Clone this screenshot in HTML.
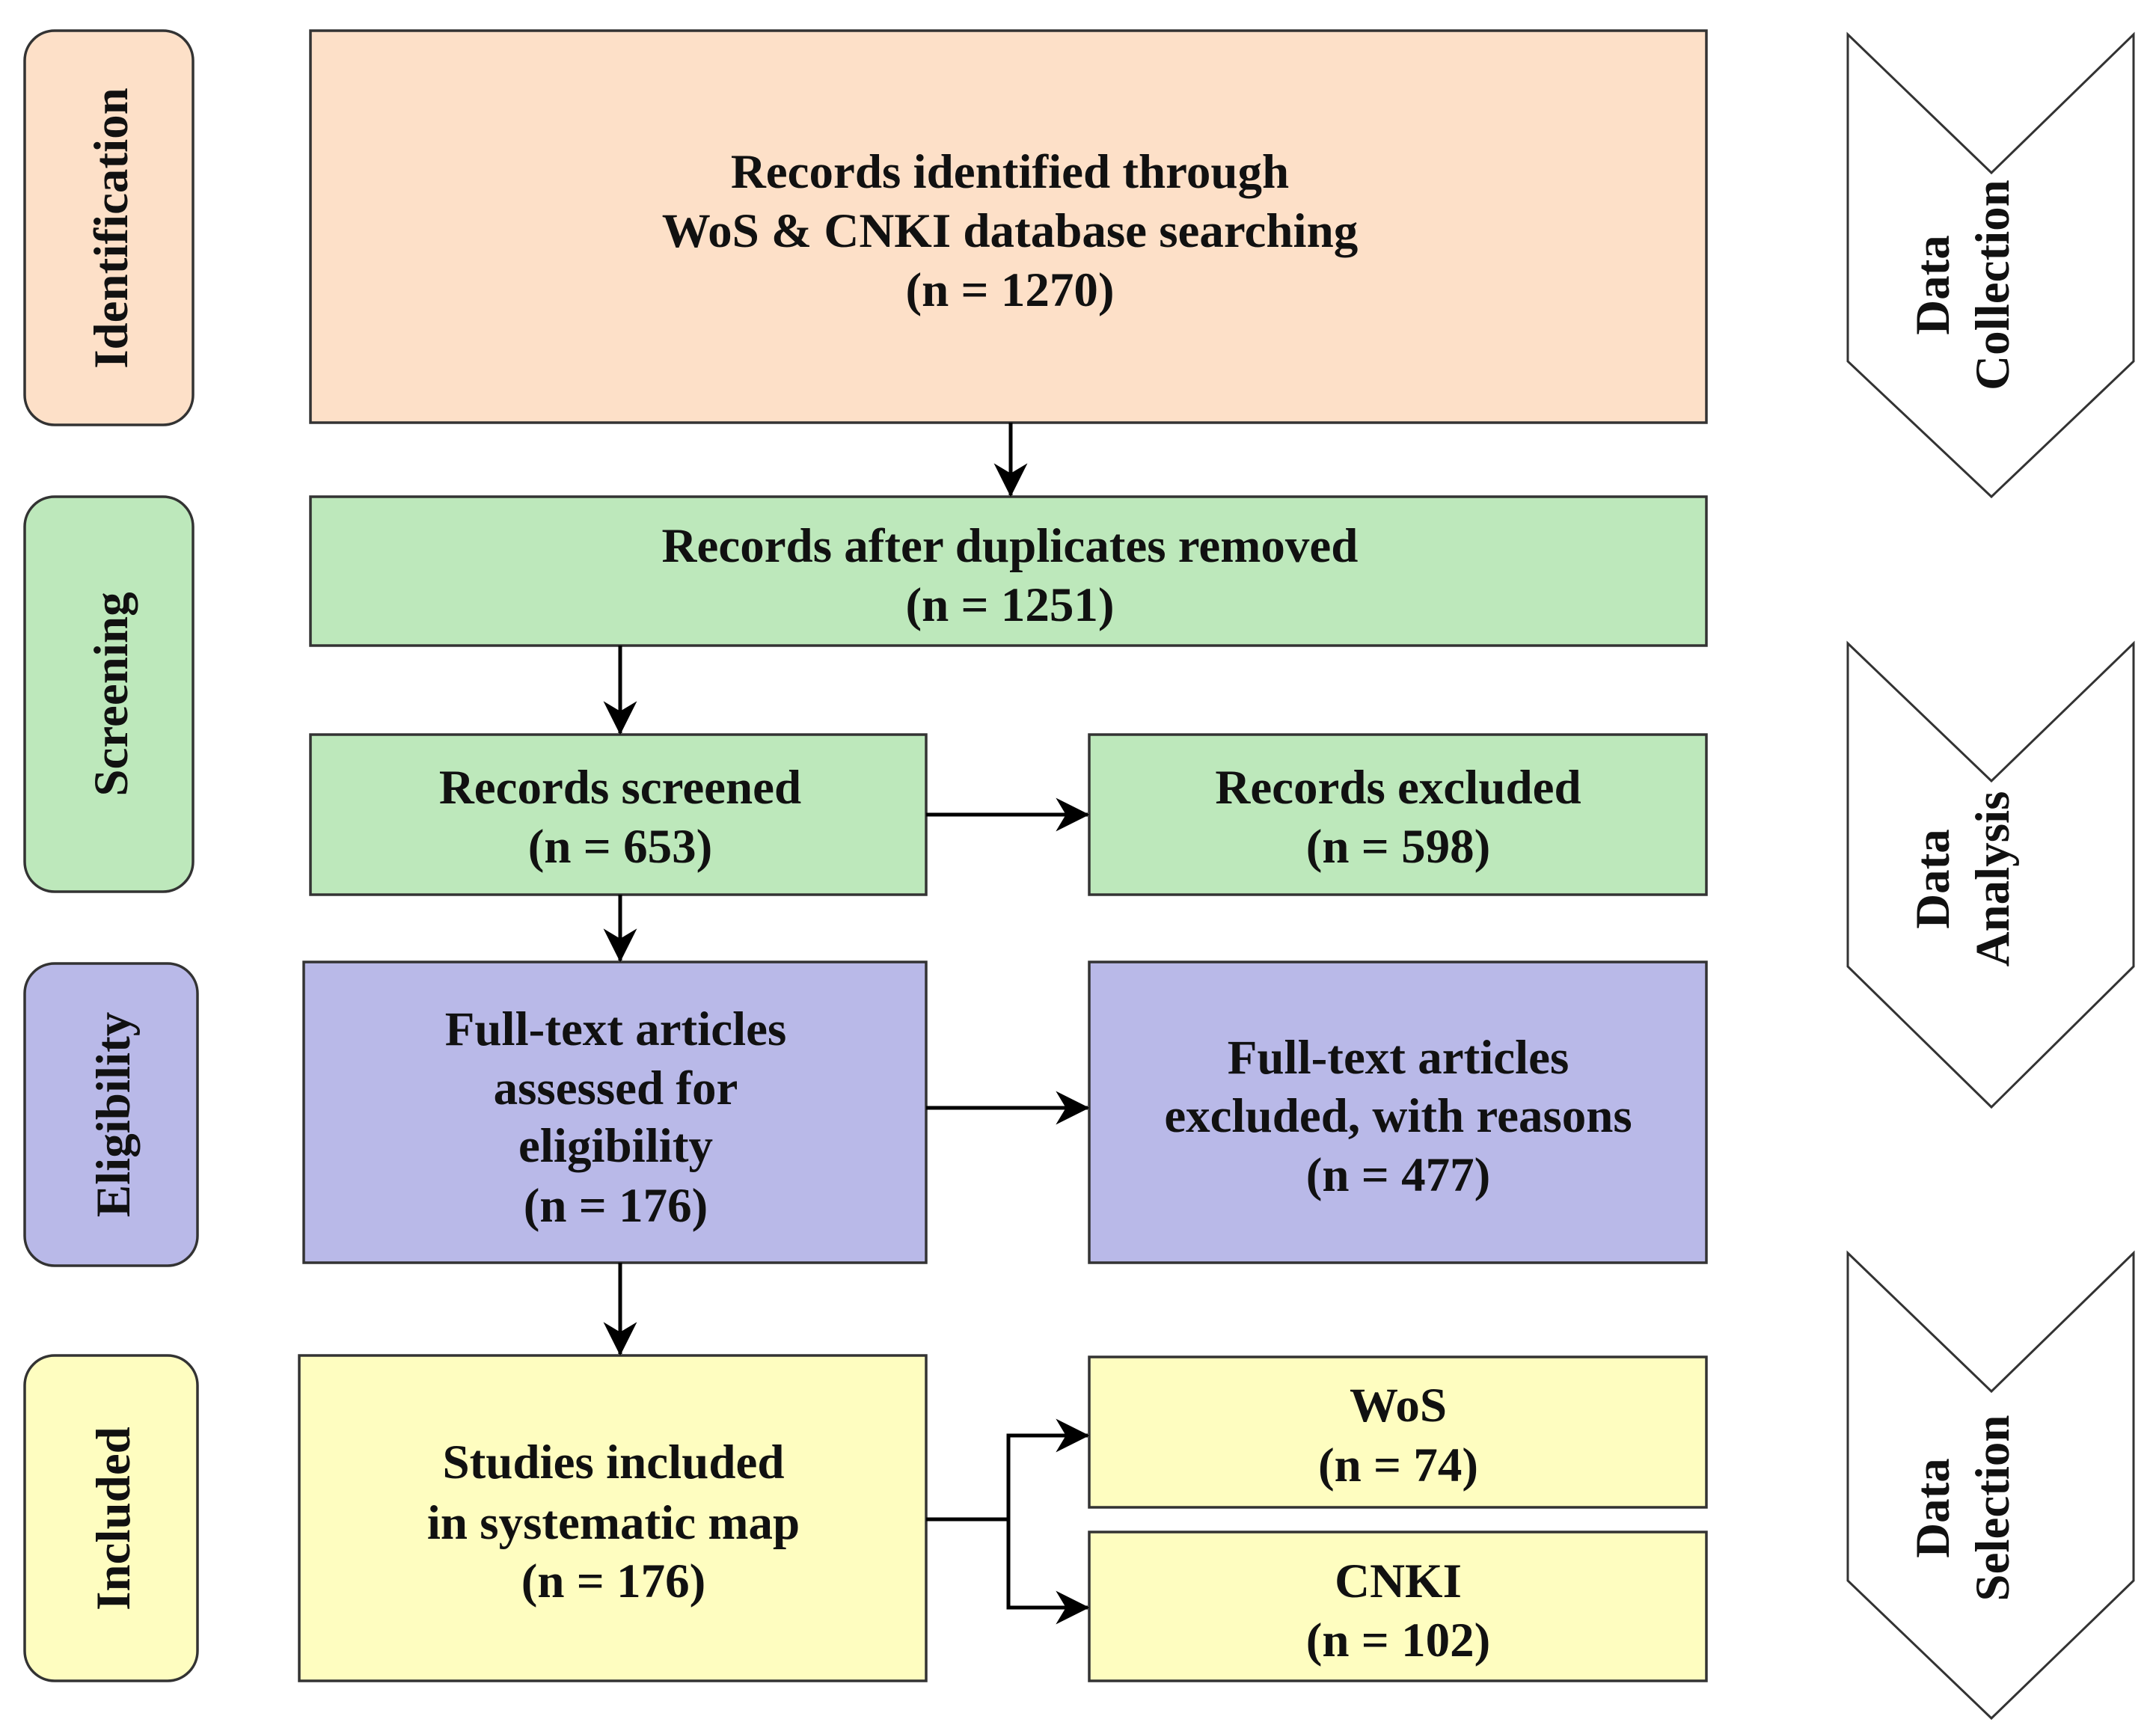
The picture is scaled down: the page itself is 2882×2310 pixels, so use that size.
<!DOCTYPE html>
<html><head><meta charset="utf-8"><style>
html,body{margin:0;padding:0;background:#fff;}
svg{display:block;}
text{font-family:"Liberation Serif",serif;font-weight:bold;font-size:65px;fill:#111;}
</style></head><body>
<svg width="2882" height="2310" viewBox="0 0 2882 2310" xmlns="http://www.w3.org/2000/svg">
<defs>
<marker id="ah" viewBox="0 0 20 20" refX="19" refY="10" markerWidth="9" markerHeight="9" markerUnits="strokeWidth" orient="auto">
<path d="M0,0 L20,10 L0,20 L6,10 Z" fill="#000"/>
</marker>
</defs>
<g stroke="#333" stroke-width="3.5">
<rect x="33" y="41" width="225" height="527" rx="40" fill="#fde0c8"/>
<rect x="33" y="664" width="225" height="528" rx="40" fill="#bde8bb"/>
<rect x="33" y="1288" width="231" height="404" rx="40" fill="#b9b9e8"/>
<rect x="33" y="1812" width="231" height="435" rx="40" fill="#fefdc0"/>
<rect x="415" y="41" width="1866" height="524" fill="#fde0c8"/>
<rect x="415" y="664" width="1866" height="199" fill="#bde8bb"/>
<rect x="415" y="982" width="823" height="214" fill="#bde8bb"/>
<rect x="1456" y="982" width="825" height="214" fill="#bde8bb"/>
<rect x="406" y="1286" width="832" height="402" fill="#b9b9e8"/>
<rect x="1456" y="1286" width="825" height="402" fill="#b9b9e8"/>
<rect x="400" y="1812" width="838" height="435" fill="#fefdc0"/>
<rect x="1456" y="1814" width="825" height="201" fill="#fefdc0"/>
<rect x="1456" y="2048" width="825" height="199" fill="#fefdc0"/>
</g>
<g stroke="#333" stroke-width="3" fill="#fff">
<path d="M2470,46 L2662,231 L2852,46 L2852,483 L2662,664 L2470,483 Z"/>
<path d="M2470,860 L2662,1044 L2852,860 L2852,1292 L2662,1480 L2470,1292 Z"/>
<path d="M2470,1675 L2662,1860 L2852,1675 L2852,2113 L2662,2297 L2470,2113 Z"/>
</g>
<g stroke="#000" stroke-width="5" fill="none">
<line x1="1351" y1="565" x2="1351" y2="662" marker-end="url(#ah)"/>
<line x1="829" y1="863" x2="829" y2="980" marker-end="url(#ah)"/>
<line x1="1238" y1="1089" x2="1454" y2="1089" marker-end="url(#ah)"/>
<line x1="829" y1="1196" x2="829" y2="1284" marker-end="url(#ah)"/>
<line x1="1238" y1="1481" x2="1454" y2="1481" marker-end="url(#ah)"/>
<line x1="829" y1="1688" x2="829" y2="1810" marker-end="url(#ah)"/>
<line x1="1238" y1="2031" x2="1348" y2="2031"/>
<polyline points="1420,1919 1348,1919 1348,2149 1420,2149"/>
<line x1="1400" y1="1919" x2="1454" y2="1919" marker-end="url(#ah)"/>
<line x1="1400" y1="2149" x2="1454" y2="2149" marker-end="url(#ah)"/>
</g>
<g text-anchor="middle">
<text x="1350" y="251">Records identified through</text>
<text x="1350" y="330">WoS &amp; CNKI database searching</text>
<text x="1350" y="409">(n = 1270)</text>
<text x="1350" y="751">Records after duplicates removed</text>
<text x="1350" y="830">(n = 1251)</text>
<text x="829" y="1074">Records screened</text>
<text x="829" y="1153">(n = 653)</text>
<text x="1869" y="1074">Records excluded</text>
<text x="1869" y="1153">(n = 598)</text>
<text x="823" y="1397">Full-text articles</text>
<text x="823" y="1476">assessed for</text>
<text x="823" y="1553">eligibility</text>
<text x="823" y="1633">(n = 176)</text>
<text x="1869" y="1435">Full-text articles</text>
<text x="1869" y="1513">excluded, with reasons</text>
<text x="1869" y="1592">(n = 477)</text>
<text x="820" y="1976">Studies included</text>
<text x="820" y="2057">in systematic map</text>
<text x="820" y="2135">(n = 176)</text>
<text x="1869" y="1900">WoS</text>
<text x="1869" y="1980">(n = 74)</text>
<text x="1869" y="2135">CNKI</text>
<text x="1869" y="2214">(n = 102)</text>
</g>
<g text-anchor="middle">
<text transform="translate(170,305) rotate(-90)">Identification</text>
<text transform="translate(170,928) rotate(-90)">Screening</text>
<text transform="translate(173,1490) rotate(-90)">Eligibility</text>
<text transform="translate(173,2030) rotate(-90)">Included</text>
<text transform="translate(2605,381) rotate(-90)">Data</text>
<text transform="translate(2685,381) rotate(-90)">Collection</text>
<text transform="translate(2605,1175) rotate(-90)">Data</text>
<text transform="translate(2685,1175) rotate(-90)">Analysis</text>
<text transform="translate(2605,2016) rotate(-90)">Data</text>
<text transform="translate(2685,2016) rotate(-90)">Selection</text>
</g>
</svg>
</body></html>
